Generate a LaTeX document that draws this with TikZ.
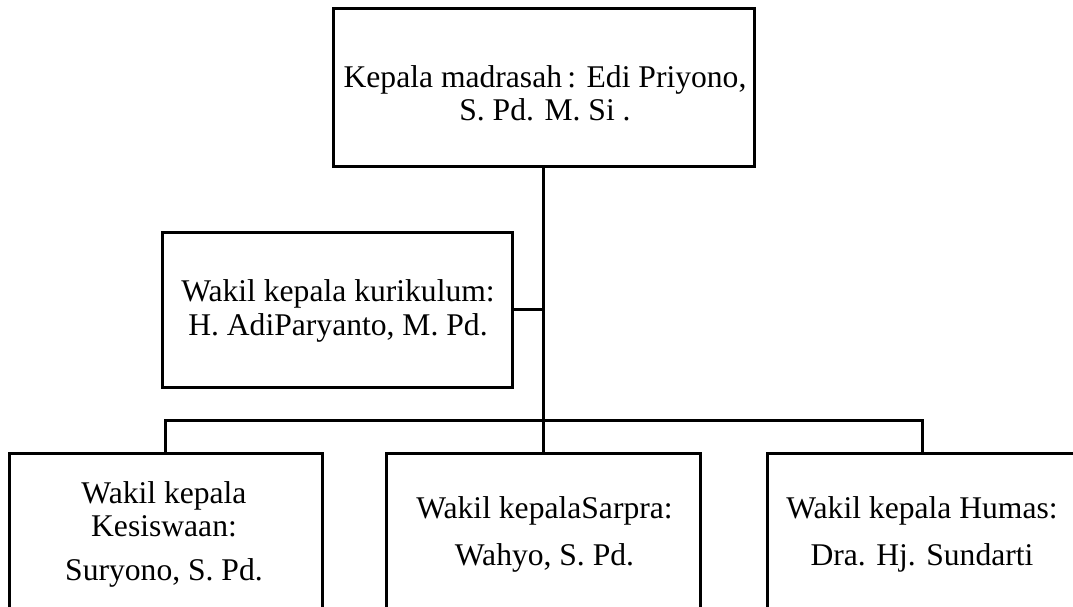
\documentclass[tikz,border=0pt]{standalone}
\usepackage{fontspec}
\setmainfont{Liberation Serif}
\begin{document}
\begin{tikzpicture}[x=1pt,y=-1pt,
  box/.style={draw=black,line width=3pt,rectangle,inner sep=0pt},
  lbl/.style={align=center,anchor=base,inner sep=0pt,font=\fontsize{31.6}{33.5}\selectfont},
  wire/.style={draw=black,line width=3pt},
  spine/.style={draw=black,line width=3.4pt}]
\useasboundingbox (0,0) rectangle (1073,607);
\clip (0,0) rectangle (1073,607);
\fill[white] (0,0) rectangle (1073,607);
% boxes
\node[box,minimum width=421pt,minimum height=157pt] (top) at (543.5,87.5) {};
\node[box,minimum width=350pt,minimum height=155pt] (wk) at (337,309.5) {};
\node[box,minimum width=313pt,minimum height=220pt] (b1) at (165.5,563) {};
\node[box,minimum width=314pt,minimum height=220pt] (b2) at (543.5,563) {};
\node[box,minimum width=310pt,minimum height=220pt] (b3) at (922,563) {};
% texts (anchor = baseline of last line)
\node[lbl] (ttop) at (545,121) {Kepala madrasah\,: Edi Priyono,\\S. Pd. M. Si .};
\node[lbl] (twk) at (338,335) {Wakil kepala kurikulum:\\H. AdiParyanto, M. Pd.};
\node[lbl] (tb1) at (164,580) {Wakil kepala\\Kesiswaan:\\[10pt]Suryono, S. Pd.};
\node[lbl] (tb2) at (544.5,565) {Wakil kepalaSarpra:\\[13pt]Wahyo, S. Pd.};
\node[lbl] (tb3) at (922,565) {Wakil kepala Humas:\\[13pt]Dra. Hj. Sundarti};
% connectors
\coordinate (jM) at (543.5,420);
\draw[spine] (top.south) -- (jM);
\draw[wire] (wk.east) -- (wk.east -| jM);
\draw[wire] (b1.north) |- (jM);
\draw[wire] (b3.north) |- (jM);
\draw[wire] (b2.north) -- (jM);
\end{tikzpicture}
\end{document}
